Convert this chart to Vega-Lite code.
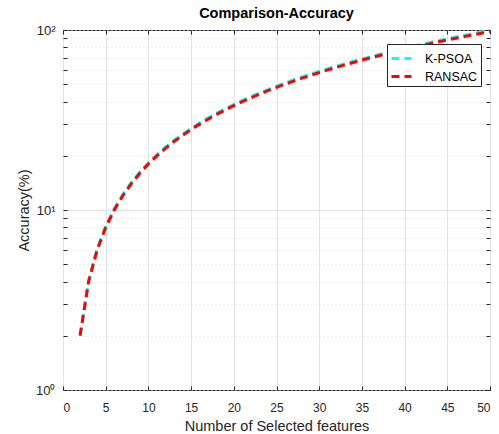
{
  "$schema": "https://vega.github.io/schema/vega-lite/v6.json",
  "autosize": {"type": "none"},
  "padding": {"left": 63, "top": 30, "right": 9, "bottom": 44},
  "width": 427,
  "height": 360,
  "background": "white",
  "config": {
    "view": {"stroke": "#262626", "strokeWidth": 1},
    "font": "Liberation Sans"
  },
  "title": {"text": "Comparison-Accuracy", "fontSize": 14.5, "fontWeight": "bold", "font": "Liberation Sans", "offset": 3, "color": "black"},
  "datasets": {
    "acc": [
      {"x": 2, "y": 2.03, "method": "K-PSOA"}, {"x": 3, "y": 4.06, "method": "K-PSOA"}, {"x": 4, "y": 6.09, "method": "K-PSOA"}, {"x": 5, "y": 8.12, "method": "K-PSOA"}, {"x": 6, "y": 10.15, "method": "K-PSOA"}, {"x": 7, "y": 12.18, "method": "K-PSOA"}, {"x": 8, "y": 14.21, "method": "K-PSOA"}, {"x": 9, "y": 16.24, "method": "K-PSOA"}, {"x": 10, "y": 18.27, "method": "K-PSOA"}, {"x": 11, "y": 20.3, "method": "K-PSOA"}, {"x": 12, "y": 22.33, "method": "K-PSOA"}, {"x": 13, "y": 24.36, "method": "K-PSOA"}, {"x": 14, "y": 26.39, "method": "K-PSOA"}, {"x": 15, "y": 28.42, "method": "K-PSOA"}, {"x": 16, "y": 30.45, "method": "K-PSOA"}, {"x": 17, "y": 32.48, "method": "K-PSOA"}, {"x": 18, "y": 34.51, "method": "K-PSOA"}, {"x": 19, "y": 36.54, "method": "K-PSOA"}, {"x": 20, "y": 38.57, "method": "K-PSOA"}, {"x": 21, "y": 40.6, "method": "K-PSOA"}, {"x": 22, "y": 42.63, "method": "K-PSOA"}, {"x": 23, "y": 44.66, "method": "K-PSOA"}, {"x": 24, "y": 46.69, "method": "K-PSOA"}, {"x": 25, "y": 48.72, "method": "K-PSOA"}, {"x": 26, "y": 50.75, "method": "K-PSOA"}, {"x": 27, "y": 52.78, "method": "K-PSOA"}, {"x": 28, "y": 54.81, "method": "K-PSOA"}, {"x": 29, "y": 56.84, "method": "K-PSOA"}, {"x": 30, "y": 58.87, "method": "K-PSOA"}, {"x": 31, "y": 60.9, "method": "K-PSOA"}, {"x": 32, "y": 62.93, "method": "K-PSOA"}, {"x": 33, "y": 64.96, "method": "K-PSOA"}, {"x": 34, "y": 66.99, "method": "K-PSOA"}, {"x": 35, "y": 69.02, "method": "K-PSOA"}, {"x": 36, "y": 71.05, "method": "K-PSOA"}, {"x": 37, "y": 73.08, "method": "K-PSOA"}, {"x": 38, "y": 75.11, "method": "K-PSOA"}, {"x": 39, "y": 77.14, "method": "K-PSOA"}, {"x": 40, "y": 79.17, "method": "K-PSOA"}, {"x": 41, "y": 81.2, "method": "K-PSOA"}, {"x": 42, "y": 83.23, "method": "K-PSOA"}, {"x": 43, "y": 85.26, "method": "K-PSOA"}, {"x": 44, "y": 87.29, "method": "K-PSOA"}, {"x": 45, "y": 89.32, "method": "K-PSOA"}, {"x": 46, "y": 91.35, "method": "K-PSOA"}, {"x": 47, "y": 93.38, "method": "K-PSOA"}, {"x": 48, "y": 95.41, "method": "K-PSOA"}, {"x": 49, "y": 97.44, "method": "K-PSOA"}, {"x": 50, "y": 99.47, "method": "K-PSOA"},
      {"x": 2, "y": 2, "method": "RANSAC"}, {"x": 3, "y": 4, "method": "RANSAC"}, {"x": 4, "y": 6, "method": "RANSAC"}, {"x": 5, "y": 8, "method": "RANSAC"}, {"x": 6, "y": 10, "method": "RANSAC"}, {"x": 7, "y": 12, "method": "RANSAC"}, {"x": 8, "y": 14, "method": "RANSAC"}, {"x": 9, "y": 16, "method": "RANSAC"}, {"x": 10, "y": 18, "method": "RANSAC"}, {"x": 11, "y": 20, "method": "RANSAC"}, {"x": 12, "y": 22, "method": "RANSAC"}, {"x": 13, "y": 24, "method": "RANSAC"}, {"x": 14, "y": 26, "method": "RANSAC"}, {"x": 15, "y": 28, "method": "RANSAC"}, {"x": 16, "y": 30, "method": "RANSAC"}, {"x": 17, "y": 32, "method": "RANSAC"}, {"x": 18, "y": 34, "method": "RANSAC"}, {"x": 19, "y": 36, "method": "RANSAC"}, {"x": 20, "y": 38, "method": "RANSAC"}, {"x": 21, "y": 40, "method": "RANSAC"}, {"x": 22, "y": 42, "method": "RANSAC"}, {"x": 23, "y": 44, "method": "RANSAC"}, {"x": 24, "y": 46, "method": "RANSAC"}, {"x": 25, "y": 48, "method": "RANSAC"}, {"x": 26, "y": 50, "method": "RANSAC"}, {"x": 27, "y": 52, "method": "RANSAC"}, {"x": 28, "y": 54, "method": "RANSAC"}, {"x": 29, "y": 56, "method": "RANSAC"}, {"x": 30, "y": 58, "method": "RANSAC"}, {"x": 31, "y": 60, "method": "RANSAC"}, {"x": 32, "y": 62, "method": "RANSAC"}, {"x": 33, "y": 64, "method": "RANSAC"}, {"x": 34, "y": 66, "method": "RANSAC"}, {"x": 35, "y": 68, "method": "RANSAC"}, {"x": 36, "y": 70, "method": "RANSAC"}, {"x": 37, "y": 72, "method": "RANSAC"}, {"x": 38, "y": 74, "method": "RANSAC"}, {"x": 39, "y": 76, "method": "RANSAC"}, {"x": 40, "y": 78, "method": "RANSAC"}, {"x": 41, "y": 80, "method": "RANSAC"}, {"x": 42, "y": 82, "method": "RANSAC"}, {"x": 43, "y": 84, "method": "RANSAC"}, {"x": 44, "y": 86, "method": "RANSAC"}, {"x": 45, "y": 88, "method": "RANSAC"}, {"x": 46, "y": 90, "method": "RANSAC"}, {"x": 47, "y": 92, "method": "RANSAC"}, {"x": 48, "y": 94, "method": "RANSAC"}, {"x": 49, "y": 96, "method": "RANSAC"}, {"x": 50, "y": 98, "method": "RANSAC"}
    ]
  },
  "data": {"name": "acc"},
  "resolve": {"axis": {"x": "independent", "y": "independent"}},
  "layer": [
    {
      "transform": [{"filter": "datum.method == 'K-PSOA'"}],
      "mark": {"type": "line", "strokeWidth": 3, "strokeDash": [8, 5], "strokeCap": "butt"},
      "encoding": {
        "x": {"field": "x", "type": "quantitative", "scale": {"domain": [0, 50], "nice": false},
          "axis": {"orient": "top", "values": [0, 5, 10, 15, 20, 25, 30, 35, 40, 45, 50], "labels": false, "title": null, "grid": false, "domain": false, "tickSize": -4, "tickColor": "#262626"}},
        "y": {"field": "y", "type": "quantitative", "scale": {"type": "log", "domain": [1, 100], "nice": false},
          "axis": {"orient": "right", "values": [1, 2, 3, 4, 5, 6, 7, 8, 9, 10, 20, 30, 40, 50, 60, 70, 80, 90, 100], "labels": false, "title": null, "grid": false, "domain": false, "tickSize": -4, "tickColor": "#262626"}},
        "color": {"field": "method", "type": "nominal",
          "scale": {"domain": ["K-PSOA", "RANSAC"], "range": ["#00FFFF", "#FF0000"]},
          "legend": {"orient": "none", "legendX": 324, "legendY": 14, "title": null, "symbolType": "stroke", "symbolStrokeWidth": 3, "symbolDash": [8, 5], "symbolSize": 400, "strokeColor": "#262626", "fillColor": "white", "padding": 3, "labelFontSize": 12.5, "labelFont": "Liberation Sans", "labelColor": "black", "rowPadding": -4, "labelOffset": 12, "cornerRadius": 0}}
      }
    },
    {
      "transform": [{"filter": "datum.method == 'RANSAC'"}],
      "mark": {"type": "line", "strokeWidth": 3, "strokeDash": [8, 5], "strokeCap": "butt"},
      "encoding": {
        "x": {"field": "x", "type": "quantitative", "scale": {"domain": [0, 50], "nice": false},
          "axis": {"orient": "bottom", "values": [0, 5, 10, 15, 20, 25, 30, 35, 40, 45, 50], "title": "Number of Selected features", "titleFontSize": 14.5, "titleFontWeight": "normal", "titleColor": "#262626", "titlePadding": 6, "labelFontSize": 12, "labelColor": "#262626", "labelPadding": 16, "grid": true, "gridColor": "#e3e3e3", "gridWidth": 1, "domain": false, "tickSize": -4, "tickColor": "#262626"}},
        "y": {"field": "y", "type": "quantitative", "scale": {"type": "log", "domain": [1, 100], "nice": false},
          "axis": {"orient": "left", "values": [1, 2, 3, 4, 5, 6, 7, 8, 9, 10, 20, 30, 40, 50, 60, 70, 80, 90, 100],
            "labelExpr": "datum.value == 1 ? '10⁰' : datum.value == 10 ? '10¹' : datum.value == 100 ? '10²' : ''",
            "title": "Accuracy(%)", "titleFontSize": 14.5, "titleFontWeight": "normal", "titleColor": "#262626", "titlePadding": 4,
            "labelFontSize": 13, "labelColor": "#262626", "labelPadding": 12,
            "grid": true, "gridColor": {"condition": {"test": "datum.value == 10", "value": "#e3e3e3"}, "value": "#d4d4d4"},
            "gridDash": {"condition": {"test": "datum.value == 10", "value": []}, "value": [1, 3]},
            "domain": false, "tickSize": -4, "tickColor": "#262626"}},
        "color": {"field": "method", "type": "nominal", "scale": {"domain": ["K-PSOA", "RANSAC"], "range": ["#00FFFF", "#FF0000"]}}
      }
    }
  ]
}
